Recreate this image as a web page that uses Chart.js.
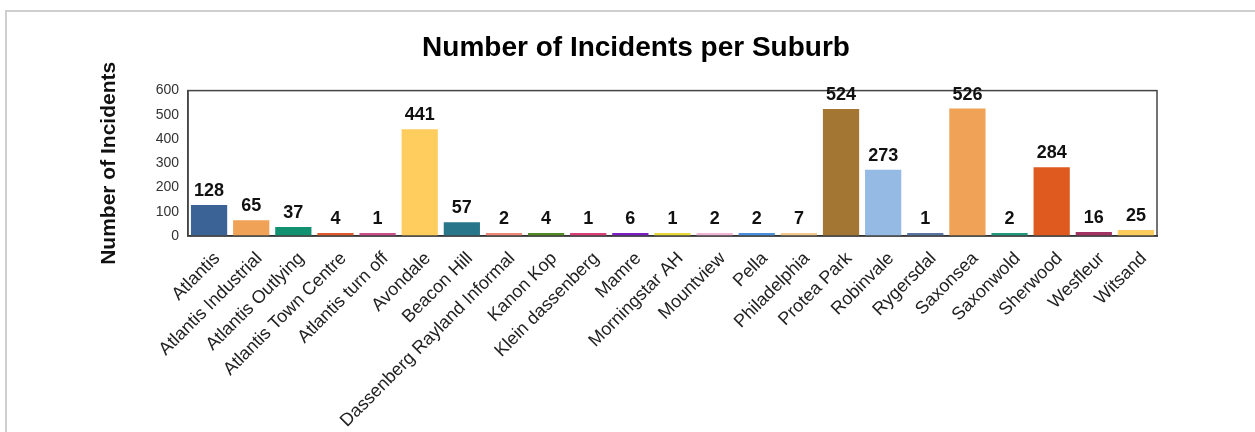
<!DOCTYPE html>
<html lang="en">

<head>
    <meta charset="UTF-8">
    <title>Number of Incidents per Suburb</title>
    <script src="https://cdn.jsdelivr.net/npm/chart.js@4.4.1/dist/chart.umd.min.js"></script>
    <style>
        body { margin: 0; background: #fff; }
        #frame {
            position: absolute; left: 5px; top: 10px; right: 0; bottom: 0;
            border-left: 2px solid #cfcfcf; border-top: 2px solid #cfcfcf;
            overflow: hidden;
        }
        canvas { display: block; }
    </style>
</head>

<body>
    <div id="frame"><canvas id="chart" width="1248" height="420"></canvas></div>
    <script>
        const suburbs = ['Atlantis', 'Atlantis Industrial', 'Atlantis Outlying', 'Atlantis Town Centre',
            'Atlantis turn off', 'Avondale', 'Beacon Hill', 'Dassenberg Rayland Informal', 'Kanon Kop',
            'Klein dassenberg', 'Mamre', 'Morningstar AH', 'Mountview', 'Pella', 'Philadelphia',
            'Protea Park', 'Robinvale', 'Rygersdal', 'Saxonsea', 'Saxonwold', 'Sherwood', 'Wesfleur', 'Witsand'];
        const incidents = [128, 65, 37, 4, 1, 441, 57, 2, 4, 1, 6, 1, 2, 2, 7, 524, 273, 1, 526, 2, 284, 16, 25];
        const barColors = ['#3b6395', '#f0a256', '#11916f', '#e0592a', '#cc4c8c', '#ffcd5e', '#27768a',
            '#f08878', '#4f8a22', '#dc3c78', '#7b1fc4', '#e8d83a', '#f2b4d6', '#4a8fdc', '#f5c88c',
            '#a47633', '#95bae3', '#5874a4', '#f0a256', '#1f9b7c', '#de5a1f', '#a23262', '#ffcd5e'];
        const yTicks = [0, 100, 200, 300, 400, 500, 600];

        const FONT = '"Liberation Sans", Arial, sans-serif';

        // box round the plot area
        const plotBox = {
            id: 'plotBox',
            afterDatasetsDraw(chart) {
                const a = chart.chartArea, ctx = chart.ctx;
                ctx.save();
                ctx.strokeStyle = '#444';
                ctx.lineWidth = 1.5;
                ctx.strokeRect(a.left, a.top, a.right - a.left, a.bottom - a.top);
                ctx.restore();
            }
        };

        // value above each bar
        const valueLabels = {
            id: 'valueLabels',
            afterDatasetsDraw(chart) {
                const ctx = chart.ctx;
                const meta = chart.getDatasetMeta(0);
                ctx.save();
                ctx.font = 'bold 18px ' + FONT;
                ctx.fillStyle = '#111';
                ctx.textAlign = 'center';
                ctx.textBaseline = 'bottom';
                meta.data.forEach((bar, i) => {
                    ctx.fillText(incidents[i], bar.x, bar.y - 5);
                });
                ctx.restore();
            }
        };

        const ctx = document.getElementById('chart').getContext('2d');
        new Chart(ctx, {
            type: 'bar',
            data: {
                labels: suburbs,
                datasets: [{
                    data: incidents,
                    backgroundColor: barColors,
                    borderWidth: 0,
                    minBarLength: 3,
                    barPercentage: 0.86,
                    categoryPercentage: 1
                }]
            },
            options: {
                responsive: false,
                animation: false,
                layout: { padding: { left: 10, right: 0, top: 0, bottom: 0 } },
                plugins: {
                    legend: { display: false },
                    tooltip: { enabled: false },
                    title: {
                        display: true,
                        text: 'Number of Incidents per Suburb',
                        color: '#000',
                        font: { family: FONT, size: 28, weight: 'bold' },
                        padding: { top: 19, bottom: 26 }
                    }
                },
                scales: {
                    x: {
                        grid: { display: false },
                        border: { display: true, color: '#000', width: 1.5 },
                        ticks: {
                            minRotation: 45, maxRotation: 45, autoSkip: false,
                            color: '#222',
                            font: { family: FONT, size: 18 },
                            padding: 4,
                            labelOffset: 8
                        },
                        afterFit: s => { s.height = 196; }
                    },
                    y: {
                        min: 0, max: 600,
                        grid: { display: false, drawTicks: false },
                        border: { display: true, color: '#444', width: 1.5 },
                        afterBuildTicks: s => { s.ticks = yTicks.map(v => ({ value: v })); },
                        ticks: {
                            color: '#333',
                            font: { family: FONT, size: 14 },
                            padding: 9
                        },
                        title: {
                            display: true,
                            text: 'Number of Incidents',
                            color: '#111',
                            font: { family: FONT, size: 21, weight: 'bold' },
                            padding: { top: 80, bottom: 0 }
                        },
                        afterFit: s => { s.width = 171; }
                    },
                    y2: {
                        position: 'right',
                        grid: { display: false },
                        border: { display: false },
                        ticks: { display: false },
                        afterFit: s => { s.width = 98; }
                    }
                }
            },
            plugins: [plotBox, valueLabels]
        });
    </script>
</body>

</html>
